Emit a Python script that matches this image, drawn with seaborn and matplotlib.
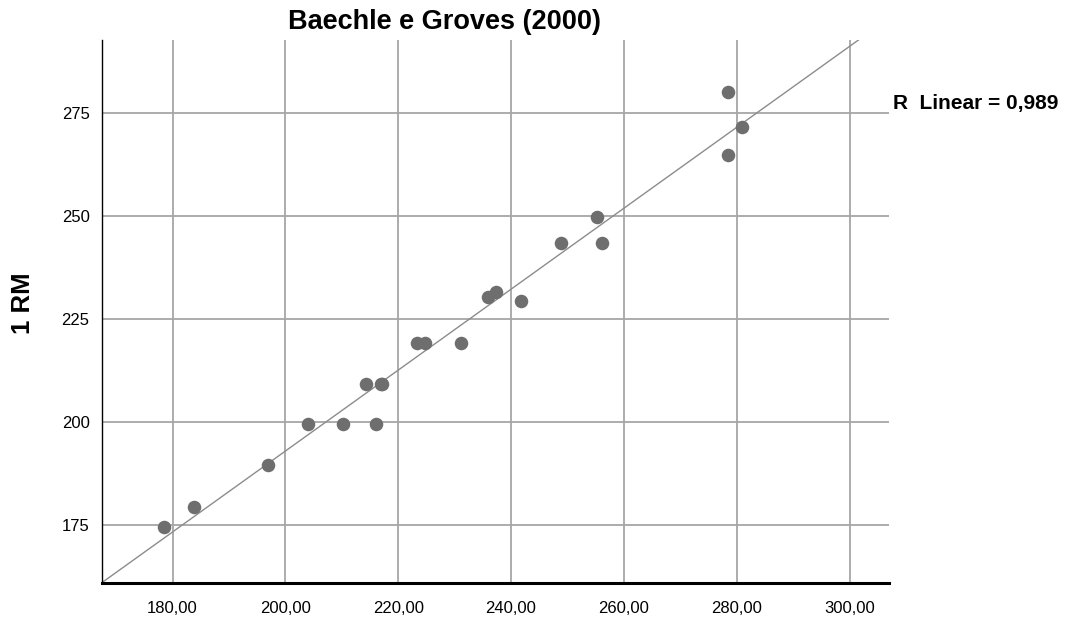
import matplotlib
matplotlib.use('Agg')
import matplotlib.pyplot as plt
import seaborn as sns
import pandas as pd

# values
estimado = [178.5, 183.8, 197.0, 204.1, 210.2, 216.0, 214.3, 217.0, 217.1,
            223.3, 224.7, 231.2, 236.0, 237.3, 241.7, 248.8, 255.3, 256.2,
            278.5, 280.9, 278.5]
rm = [174.5, 179.5, 189.5, 199.5, 199.5, 199.5, 209.2, 209.2, 209.2,
      219.2, 219.2, 219.2, 230.4, 231.5, 229.5, 243.5, 249.7, 243.5,
      280.0, 271.7, 264.7]

x_ticks = [180, 200, 220, 240, 260, 280, 300]
x_labels = ['180,00', '200,00', '220,00', '240,00', '260,00', '280,00', '300,00']
y_ticks = [175, 200, 225, 250, 275]
y_labels = ['175', '200', '225', '250', '275']

df = pd.DataFrame({'estimado': estimado, 'rm': rm})

sns.set_style('white')
plt.rcParams['font.family'] = ['Liberation Sans', 'DejaVu Sans']
plt.rcParams['text.color'] = 'black'
plt.rcParams['xtick.color'] = 'black'
plt.rcParams['ytick.color'] = 'black'

fig = plt.figure(figsize=(10.67, 6.21), dpi=100)
ax = fig.add_axes([0.0956, 0.0612, 0.7376, 0.8744])
ax.set_xlim(167.5, 307.0)
ax.set_ylim(161.0, 292.7)

# scatter + linear fit across the whole x range
sns.regplot(data=df, x='estimado', y='rm', ax=ax, ci=None, truncate=False,
            scatter_kws={'s': 95, 'color': '#6e6e6e', 'alpha': 1, 'linewidths': 0, 'zorder': 3},
            line_kws={'color': '#8c8c8c', 'linewidth': 1.0, 'zorder': 2})

ax.set_xticks(x_ticks)
ax.set_xticklabels(x_labels, fontsize=12)
ax.set_yticks(y_ticks)
ax.set_yticklabels(y_labels, fontsize=12)
ax.tick_params(length=0)
ax.tick_params(axis='x', pad=13)
ax.tick_params(axis='y', pad=9)
ax.grid(True, color='#a6a6a6', linewidth=1.3)
ax.set_axisbelow(True)

for s in ['top', 'right']:
    ax.spines[s].set_visible(False)
ax.spines['left'].set_color('black')
ax.spines['left'].set_linewidth(1.0)
ax.spines['bottom'].set_color('black')
ax.spines['bottom'].set_linewidth(2.2)

ax.set_xlabel('')
ax.set_ylabel('')
fig.text(0.022, 0.512, '1 RM', rotation=90, fontsize=18.5, fontweight='bold',
         ha='center', va='center')
fig.text(0.417, 0.965, 'Baechle e Groves (2000)', fontsize=19.5, fontweight='bold',
         ha='center', va='center')
fig.text(0.837, 0.834, 'R  Linear = 0,989', fontsize=15, fontweight='bold',
         ha='left', va='center')

plt.savefig('out.png', dpi=100)
